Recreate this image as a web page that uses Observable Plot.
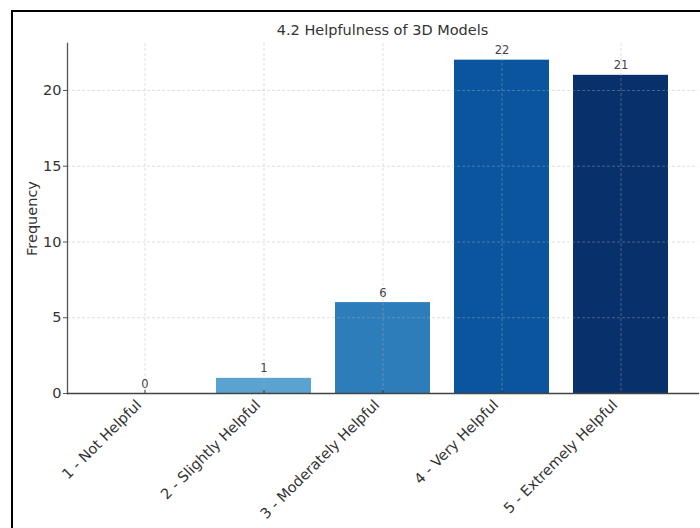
<!DOCTYPE html>
<html>
<head>
<meta charset="utf-8">
<script src="https://cdn.jsdelivr.net/npm/d3@7"></script>
<script src="https://cdn.jsdelivr.net/npm/@observablehq/plot@0.6"></script>
<style>
  html, body { margin: 0; padding: 0; background: #fff; }
  #wrap { position: relative; width: 700px; height: 528px; overflow: hidden; font-family: "DejaVu Sans", sans-serif; }
  #frame { position: absolute; left: 11px; top: 10px; width: 720px; height: 540px; border-top: 2px solid #000; border-left: 2px solid #000; box-sizing: border-box; }
  #title { position: absolute; left: 0; width: 765px; top: 20px; text-align: center; font-size: 14.5px; color: #333; line-height: 20px; }
  #chart { position: absolute; left: 0; top: 0; }
</style>
</head>
<body>
<div id="wrap">
  <div id="frame"></div>
  <div id="chart"></div>
  <div id="title">4.2 Helpfulness of 3D Models</div>
</div>
<script>
const categories = ["1 - Not Helpful", "2 - Slightly Helpful", "3 - Moderately Helpful", "4 - Very Helpful", "5 - Extremely Helpful"];
const frequencies = [0, 1, 6, 22, 21];
const yTicks = [0, 5, 10, 15, 20];

const data = categories.map((c, i) => ({category: c, value: frequencies[i]}));

const chart = Plot.plot({
  width: 700,
  height: 528,
  marginLeft: 67,
  marginRight: 2,
  marginTop: 43,
  marginBottom: 135,
  style: {fontFamily: "DejaVu Sans, sans-serif", background: "transparent"},
  x: {domain: categories, paddingInner: 0.2, paddingOuter: 0.24, axis: null},
  y: {domain: [0, 23.1], axis: null},
  color: {domain: categories, range: ["#c6dbef", "#5aa2cf", "#2d7dbb", "#0b559f", "#08306b"]},
  marks: [
    Plot.barY(data, {x: "category", y: "value", fill: "category"}),
    Plot.gridY(yTicks, {stroke: "#b0b0b0", strokeOpacity: 0.5, strokeWidth: 0.8, strokeDasharray: "3,2"}),
    Plot.gridX(categories, {stroke: "#b0b0b0", strokeOpacity: 0.5, strokeWidth: 0.8, strokeDasharray: "3,2"}),
    Plot.text(data, {x: "category", y: "value", text: d => String(d.value), lineAnchor: "bottom", dy: -6, fontSize: 11.5, fill: "#444"}),
    Plot.axisY({ticks: yTicks, tickSize: 4, tickPadding: 2, fontSize: 14.5, color: "#333", stroke: "#555", label: null}),
    Plot.axisX({tickSize: -3, text: null, stroke: "#333", label: null}),
    Plot.text(categories, {x: d => d, frameAnchor: "bottom", rotate: -45, textAnchor: "end", lineAnchor: "middle", dx: -6, dy: 9, fontSize: 14.5, fill: "#333"}),
    Plot.text(["Frequency"], {frameAnchor: "left", rotate: -90, dx: -35, textAnchor: "middle", lineAnchor: "middle", fontSize: 14.5, fill: "#333"}),
    Plot.frame({anchor: "left", stroke: "#555", strokeWidth: 1.3}),
    Plot.frame({anchor: "bottom", stroke: "#444", strokeWidth: 1.3})
  ]
});
document.getElementById("chart").appendChild(chart);
</script>
</body>
</html>
